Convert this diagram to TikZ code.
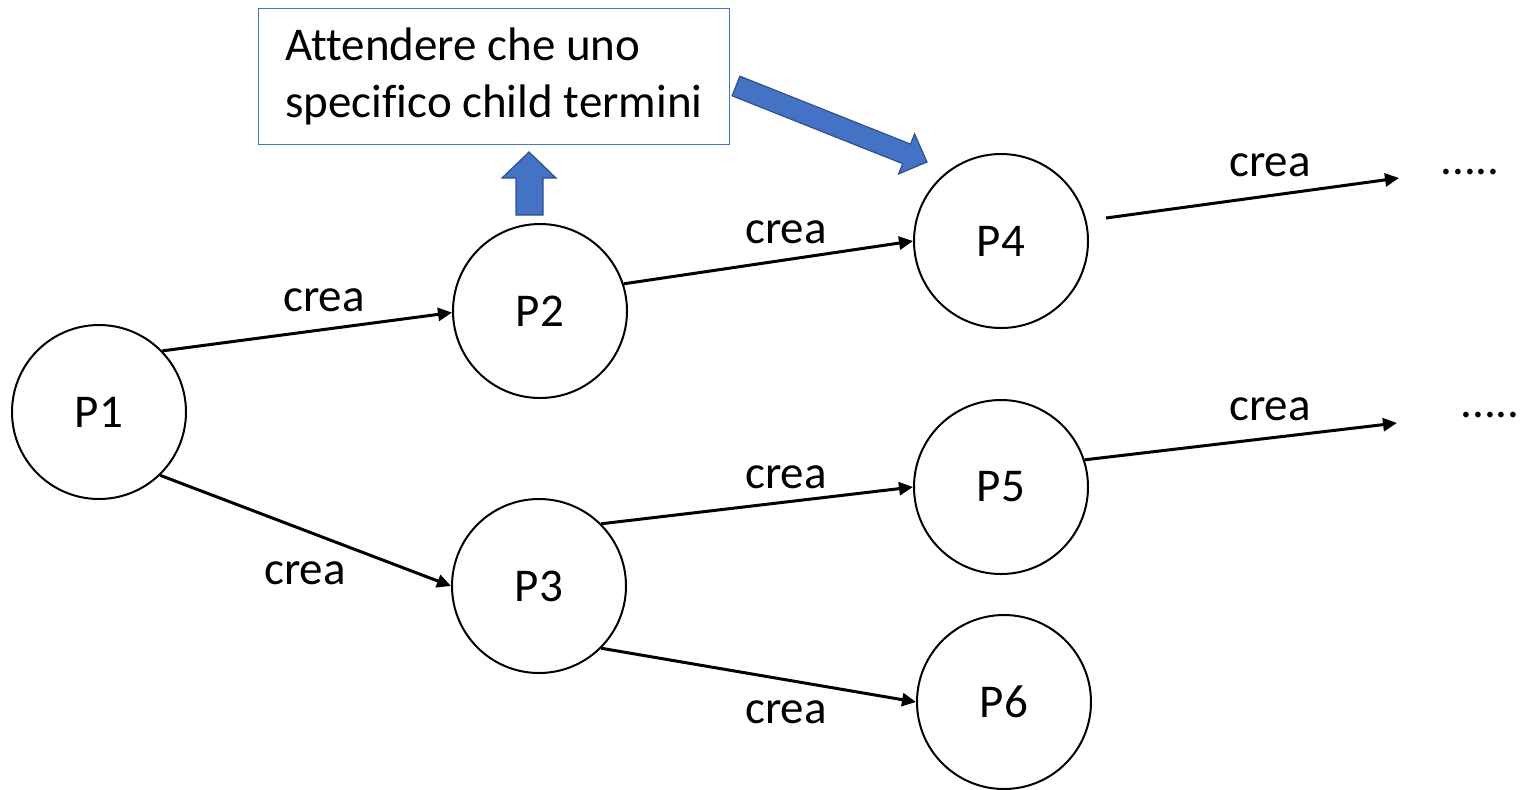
\documentclass[tikz,border=0pt]{standalone}
\usepackage{fontspec}
\setmainfont{Carlito}[Ligatures=NoCommon]
\usetikzlibrary{arrows.meta}
\definecolor{boxblue}{HTML}{4472C4}
\definecolor{darkblue}{HTML}{2F528F}
\begin{document}
\begin{tikzpicture}[x=0.5pt,y=-0.5pt,
  proc/.style={circle,draw=black,line width=1pt,minimum size=87pt,inner sep=0pt,
    font=\fontsize{23.5}{28.5}\selectfont},
  conn/.style={line width=1.5pt,-{Triangle[length=7pt,width=6.5pt]}},
  lbl/.style={anchor=base,inner sep=0pt,font=\fontsize{23.5}{28.5}\selectfont},
  notebox/.style={draw=boxblue,line width=0.6pt,anchor=north west,align=left,
    minimum width=235.5pt,minimum height=68pt,inner xsep=11pt,inner ysep=0pt,
    font=\fontsize{23.5}{28.5}\selectfont},
  blockarrow/.style={fill=boxblue,draw=darkblue,line width=0.6pt}]
\useasboundingbox (0,0) rectangle (1521,789);
% process nodes
\node[proc] (P1) at (99,412) {P1};
\node[proc] (P2) at (540,311) {P2};
\node[proc] (P3) at (539,586) {P3};
\node[proc] (P4) at (1001,241) {P4};
\node[proc] (P5) at (1001,487) {P5};
\node[proc] (P6) at (1004,702) {P6};
% note box
\node[notebox] (note) at (258,8) {Attendere che uno\\specifico child termini};
% dots
\node[anchor=base west,inner sep=0pt,font=\fontsize{23.5}{28.5}\selectfont] (dots1) at (1440,174) {.....};
\node[anchor=base west,inner sep=0pt,font=\fontsize{23.5}{28.5}\selectfont] (dots2) at (1460,417) {.....};
% free ends
\coordinate (c4a) at (1106,218);
\coordinate (c4b) at (1399,178);
\coordinate (c5b) at (1397,423);
% connectors
\draw[conn] (P1.44) -- (P2.181);
\draw[conn] (P2.18.6) -- (P4.180);
\draw[conn] (P1.314.5) -- (P3.180);
\draw[conn] (P3.45.5) -- (P5.180);
\draw[conn] (P3.315) -- (P6.180);
\draw[conn] (c4a) -- (c4b);
\draw[conn] (P5.18) -- (c5b);
% labels
\node[lbl] (l12) at (324,311) {crea};
\node[lbl] (l13) at (305,584) {crea};
\node[lbl] (l24) at (786,243) {crea};
\node[lbl] (l35) at (786,488) {crea};
\node[lbl] (l36) at (786,723) {crea};
\node[lbl] (l4d) at (1270,176) {crea};
\node[lbl] (l5d) at (1270,420) {crea};
% block arrows
\draw[blockarrow] (516,215) -- (516,178) -- (502,178) -- (529,152) -- (556,178) -- (543,178) -- (543,215) -- cycle;
\draw[blockarrow] (739.9,76.2) -- (910.5,144.1) -- (914.6,133.9) -- (927,162) -- (898.6,173.9) -- (902.7,163.7) -- (732.1,95.8) -- cycle;
\end{tikzpicture}
\end{document}
